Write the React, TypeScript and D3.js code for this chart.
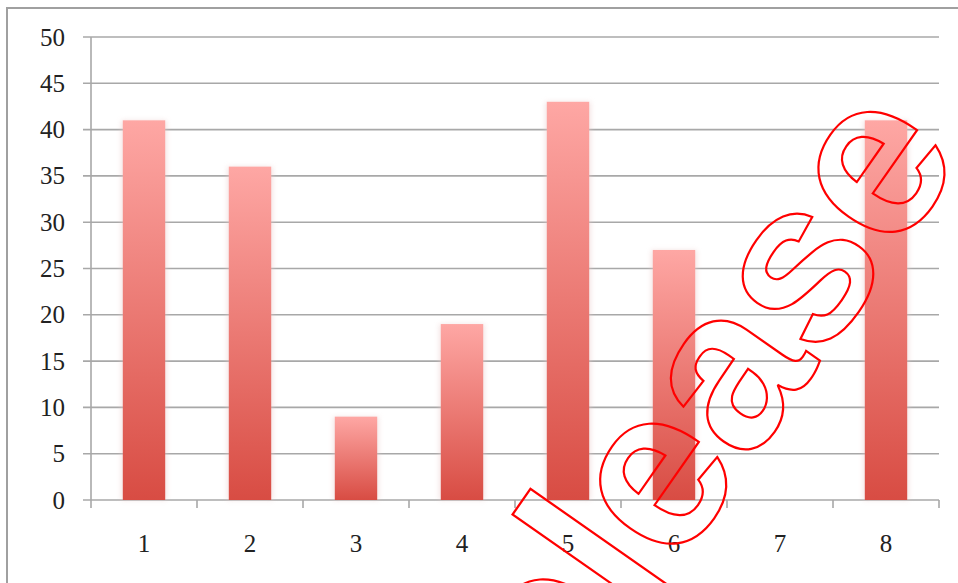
import { useEffect, useRef } from 'react'
import * as d3 from 'd3'

// ── data ─────────────────────────────────────────────────────────────────────
const CATEGORIES = ['1', '2', '3', '4', '5', '6', '7', '8']
const VALUES     = [41, 36, 9, 19, 43, 27, 0, 41]
const Y_TICKS    = [0, 5, 10, 15, 20, 25, 30, 35, 40, 45, 50]
const WATERMARK  = 'Release'

// ── constants ────────────────────────────────────────────────────────────────
const W = 958
const H = 583
const M = { top: 37, right: 19, bottom: 83, left: 91 }
const C_GRID  = '#a8a8a8'
const C_FRAME = '#a0a0a0'
const C_TOP   = '#fea7a4'
const C_BOT   = '#d84c43'
const FONT    = '"Liberation Serif", serif'

export default function App() {
  const ref = useRef<SVGSVGElement>(null)

  useEffect(() => {
    if (!ref.current) return
    const svg = d3.select(ref.current)
    svg.selectAll('*').remove()

    const iW = W - M.left - M.right
    const iH = H - M.top - M.bottom

    const x = d3.scaleBand().domain(CATEGORIES).range([0, iW]).paddingInner(0.6).paddingOuter(0.3)
    const xb = d3.scaleBand().domain(CATEGORIES).range([0, iW])
    const y = d3.scaleLinear().domain([0, 50]).range([iH, 0])

    const defs = svg.append('defs')
    const grad = defs.append('linearGradient')
      .attr('id', 'bar-fill')
      .attr('x1', 0).attr('y1', 0).attr('x2', 0).attr('y2', 1)
    grad.append('stop').attr('offset', '0%').attr('stop-color', C_TOP)
    grad.append('stop').attr('offset', '100%').attr('stop-color', C_BOT)

    const blur = defs.append('filter').attr('id', 'soft')
      .attr('x', '-20%').attr('y', '-5%').attr('width', '140%').attr('height', '110%')
    blur.append('feGaussianBlur').attr('stdDeviation', 2.5)

    // frame
    svg.append('path')
      .attr('d', `M7,${H + 5} L7,8 L${W + 5},8`)
      .attr('fill', 'none').attr('stroke', C_FRAME).attr('stroke-width', 2)

    const g = svg.append('g').attr('transform', `translate(${M.left},${M.top})`)

    // grid
    g.append('g')
      .selectAll('line')
      .data(Y_TICKS)
      .join('line')
        .attr('x1', -8).attr('x2', iW)
        .attr('y1', v => y(v)).attr('y2', v => y(v))
        .attr('stroke', C_GRID).attr('stroke-width', 1.6)

    // bar shadows
    g.append('g')
      .selectAll('rect')
      .data(VALUES.map((v, i) => ({ v, c: CATEGORIES[i] })).filter(d => d.v > 0))
      .join('rect')
        .attr('x', d => x(d.c)! - 1.5)
        .attr('y', d => y(d.v))
        .attr('width', x.bandwidth() + 3)
        .attr('height', d => iH - y(d.v))
        .attr('fill', '#e8c8c8')
        .attr('opacity', 0.5)
        .attr('filter', 'url(#soft)')

    // bars
    g.append('g')
      .selectAll('rect')
      .data(VALUES.map((v, i) => ({ v, c: CATEGORIES[i] })).filter(d => d.v > 0))
      .join('rect')
        .attr('x', d => x(d.c)!)
        .attr('y', d => y(d.v))
        .attr('width', x.bandwidth())
        .attr('height', d => iH - y(d.v))
        .attr('fill', 'url(#bar-fill)')

    // y axis
    g.append('line')
      .attr('x1', 0).attr('x2', 0).attr('y1', 0).attr('y2', iH)
      .attr('stroke', C_GRID).attr('stroke-width', 1.6)

    g.append('g')
      .selectAll('text')
      .data(Y_TICKS)
      .join('text')
        .attr('x', -26).attr('y', v => y(v))
        .attr('dy', '0.34em')
        .attr('text-anchor', 'end')
        .attr('font-family', FONT).attr('font-size', 25).attr('fill', '#222')
        .text(v => String(v))

    // x axis ticks at band boundaries
    const bounds = [...CATEGORIES.map(c => xb(c)!), iW]
    g.append('g')
      .selectAll('line')
      .data(bounds)
      .join('line')
        .attr('x1', d => d).attr('x2', d => d)
        .attr('y1', iH).attr('y2', iH + 8)
        .attr('stroke', C_GRID).attr('stroke-width', 1.6)

    g.append('g')
      .selectAll('text')
      .data(CATEGORIES)
      .join('text')
        .attr('x', c => xb(c)! + xb.bandwidth() / 2)
        .attr('y', iH + 52)
        .attr('text-anchor', 'middle')
        .attr('font-family', FONT).attr('font-size', 25).attr('fill', '#222')
        .text(c => c)

    // watermark
    svg.append('text')
      .attr('transform', 'translate(966,155) rotate(-55)')
      .attr('text-anchor', 'end')
      .attr('font-family', '"Liberation Sans", Arial, sans-serif')
      .attr('font-weight', 'bold')
      .attr('font-size', 228)
      .attr('fill', 'none')
      .attr('stroke', '#ff0000')
      .attr('stroke-width', 2.2)
      .text(WATERMARK)
  }, [])

  return (
    <svg
      ref={ref}
      width={W}
      height={H}
      viewBox={`0 0 ${W} ${H}`}
      style={{ position: 'absolute', left: 0, top: 0, background: '#fff', display: 'block' }}
    />
  )
}
